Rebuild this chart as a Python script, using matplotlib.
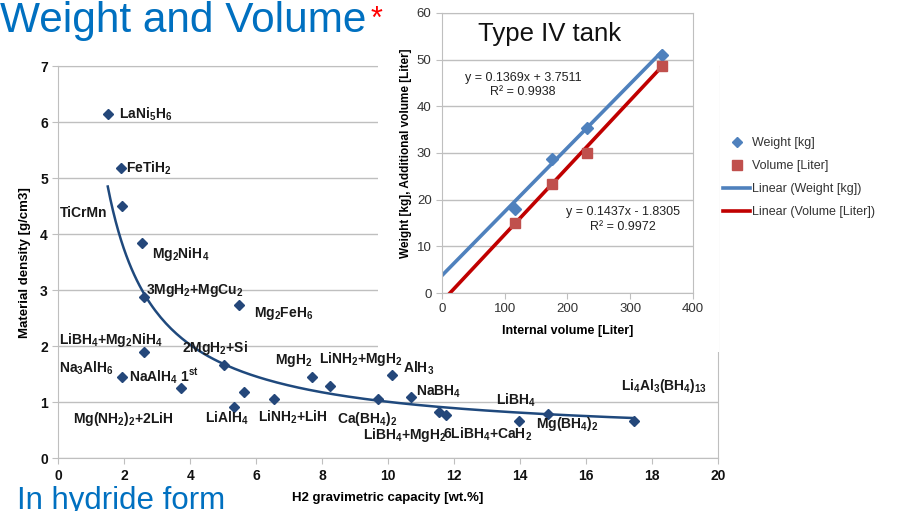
import numpy as np
import matplotlib.pyplot as plt
from matplotlib.patches import Rectangle

plt.rcParams['font.family'] = ['Liberation Sans', 'DejaVu Sans']
plt.rcParams['mathtext.fontset'] = 'custom'
plt.rcParams['mathtext.rm'] = 'Liberation Sans:bold'
plt.rcParams['mathtext.it'] = 'Liberation Sans:bold'
plt.rcParams['mathtext.bf'] = 'Liberation Sans:bold'
plt.rcParams['mathtext.default'] = 'rm'

# hydrides: H2 gravimetric capacity [wt.%] vs material density [g/cm3]
capacity = [1.50, 1.90, 1.92, 2.53, 2.61, 5.48, 2.61, 1.92, 3.72, 5.01, 5.33, 5.64,
            6.53, 7.70, 8.23, 9.68, 10.13, 10.69, 11.54, 11.74, 13.96, 14.85, 17.45]
density = [6.15, 5.18, 4.50, 3.85, 2.87, 2.74, 1.90, 1.45, 1.26, 1.67, 0.92, 1.18,
           1.05, 1.45, 1.29, 1.06, 1.49, 1.09, 0.83, 0.77, 0.66, 0.79, 0.67]

names = [r'LaNi$_5$H$_6$', r'FeTiH$_2$', 'TiCrMn', r'Mg$_2$NiH$_4$',
         r'3MgH$_2$+MgCu$_2$', r'Mg$_2$FeH$_6$', r'LiBH$_4$+Mg$_2$NiH$_4$',
         r'2MgH$_2$+Si', r'Na$_3$AlH$_6$', r'NaAlH$_4$ 1$^{st}$',
         r'Mg(NH$_2$)$_2$+2LiH', r'LiAlH$_4$', r'LiNH$_2$+LiH', r'MgH$_2$',
         r'LiNH$_2$+MgH$_2$', r'AlH$_3$', r'NaBH$_4$', r'Ca(BH$_4$)$_2$',
         r'LiBH$_4$+MgH$_2$', r'6LiBH$_4$+CaH$_2$', r'LiBH$_4$', r'Mg(BH$_4$)$_2$',
         r'Li$_4$Al$_3$(BH$_4$)$_{13}$']
# where each name is written (left edge, vertical centre), in data units
name_x = [1.84, 2.05, 0.05, 2.85, 2.66, 5.94, 0.03, 3.74, 0.03, 2.15, 0.44, 4.44,
          6.06, 6.57, 7.90, 10.45, 10.84, 8.44, 9.24, 11.67, 13.26, 14.47, 17.07]
name_y = [6.13, 5.18, 4.37, 3.65, 3.00, 2.59, 2.11, 1.96, 1.61, 1.46, 0.71, 0.71,
          0.73, 1.75, 1.77, 1.61, 1.19, 0.71, 0.42, 0.42, 1.04, 0.61, 1.29]

# trend: density = trend_a / capacity + trend_c
trend_a = 6.78
trend_c = 0.33

# Type IV tank: internal volume [Liter] vs weight [kg] and additional volume [Liter]
tank_volume = [116, 176, 231, 350]
tank_weight = [18.1, 28.7, 35.4, 51.1]
tank_addvol = [15.0, 23.4, 30.1, 48.6]
weight_fit = (0.1369, 3.7511, 0.9938)
volume_fit = (0.1437, -1.8305, 0.9972)

blue_title = '#0070C0'
grid_c = '#BFBFBF'
point_c = '#24477A'

fig = plt.figure(figsize=(8.98, 5.11), dpi=100)
fig.patch.set_facecolor('white')

# ---- main chart ----
ax = fig.add_axes([0.0649, 0.1031, 0.7347, 0.7677], zorder=0)
ax.plot(capacity, density, ls='none', marker='D', ms=5, color=point_c, zorder=3)

xs = np.linspace(min(capacity), max(capacity), 200)
ax.plot(xs, trend_a / xs + trend_c, color='#1F497D', lw=1.8, zorder=2)

for t, x, y in zip(names, name_x, name_y):
    ax.text(x, y, t, ha='left', va='center', fontsize=10, fontweight='bold',
            color='#1a1a1a', zorder=4)

ax.set_xlim(0, 20)
ax.set_ylim(0, 7)
ax.set_xticks(np.arange(0, 21, 2))
ax.set_yticks(np.arange(0, 8, 1))
ax.yaxis.grid(True, color=grid_c, lw=1)
ax.set_axisbelow(True)
for s in ax.spines.values():
    s.set_color(grid_c)
ax.tick_params(colors=grid_c, labelcolor='#111111', length=4, labelsize=10)
for lab in ax.get_xticklabels() + ax.get_yticklabels():
    lab.set_fontweight('bold')
ax.set_xlabel('H2 gravimetric capacity [wt.%]', fontsize=9.5, fontweight='bold')
ax.set_ylabel('Material density [g/cm3]', fontsize=9.5, fontweight='bold')
ax.xaxis.set_label_coords(0.5, -0.085)
ax.yaxis.set_label_coords(-0.041, 0.5)

# white panel behind the tank chart
fig.patches.append(Rectangle((0.421, 0.311), 0.38, 0.7, transform=fig.transFigure,
                             facecolor='white', edgecolor='none', zorder=1))

# ---- tank inset ----
ins = fig.add_axes([0.4922, 0.4266, 0.2795, 0.548], zorder=2)
ins.set_facecolor('white')
fx = np.array([0, 350])
ins.plot(fx, weight_fit[0] * fx + weight_fit[1], color='#4F81BD', lw=2.6,
         label='Linear (Weight [kg])', zorder=2)
ins.plot(fx, volume_fit[0] * fx + volume_fit[1], color='#C00000', lw=2.6,
         label='Linear (Volume [Liter])', zorder=2)
ins.plot(tank_volume, tank_weight, ls='none', marker='D', ms=6, color='#4F81BD',
         label='Weight [kg]', zorder=3)
ins.plot(tank_volume, tank_addvol, ls='none', marker='s', ms=7, color='#C0504D',
         label='Volume [Liter]', zorder=3)


def eq_text(fit):
    m, c, r2 = fit
    sign = '+' if c >= 0 else '-'
    return f'y = {m:.4f}x {sign} {abs(c):.4f}\nR² = {r2:.4f}'


ins.text(129, 44.6, eq_text(weight_fit), ha='center', va='center', fontsize=9,
         color='#222222', linespacing=1.3)
ins.text(289, 15.7, eq_text(volume_fit), ha='center', va='center', fontsize=9,
         color='#222222', linespacing=1.3)
ins.text(172, 55.5, 'Type IV tank', ha='center', va='center', fontsize=18.5,
         color='#111111')

ins.set_xlim(0, 400)
ins.set_ylim(0, 60)
ins.set_xticks(np.arange(0, 401, 100))
ins.set_yticks(np.arange(0, 61, 10))
ins.yaxis.grid(True, color=grid_c, lw=1)
ins.set_axisbelow(True)
for s in ins.spines.values():
    s.set_color(grid_c)
ins.tick_params(colors=grid_c, labelcolor='#333333', length=4, labelsize=9.5)
ins.set_xlabel('Internal volume [Liter]', fontsize=9, fontweight='bold')
ins.set_ylabel('Weight [kg], Additional volume [Liter]', fontsize=8.5,
               fontweight='bold')
ins.xaxis.set_label_coords(0.5, -0.113)
ins.yaxis.set_label_coords(-0.12, 0.5)

handles, labels = ins.get_legend_handles_labels()
order = [2, 3, 0, 1]
leg = fig.legend([handles[i] for i in order], [labels[i] for i in order],
                 loc='upper left', bbox_to_anchor=(0.805, 0.732), frameon=False,
                 fontsize=9, labelspacing=0.88, handlelength=2.2, handletextpad=0.1,
                 borderpad=0, borderaxespad=0, labelcolor='#333333')
leg.legend_handles[0].set_markersize(5)
leg.legend_handles[1].set_markersize(6.5)

# slide headings
fig.text(0.0, 1 - 32 / 511, 'Weight and Volume', fontsize=30.5, color=blue_title,
         ha='left', va='baseline')
fig.text(0.413, 1 - 28 / 511, '*', fontsize=22, color='#FF0000', ha='left',
         va='baseline')
fig.text(0.019, 2 / 511, 'In hydride form', fontsize=22.5, color=blue_title,
         ha='left', va='baseline')

fig.savefig('out.png', dpi=100)
